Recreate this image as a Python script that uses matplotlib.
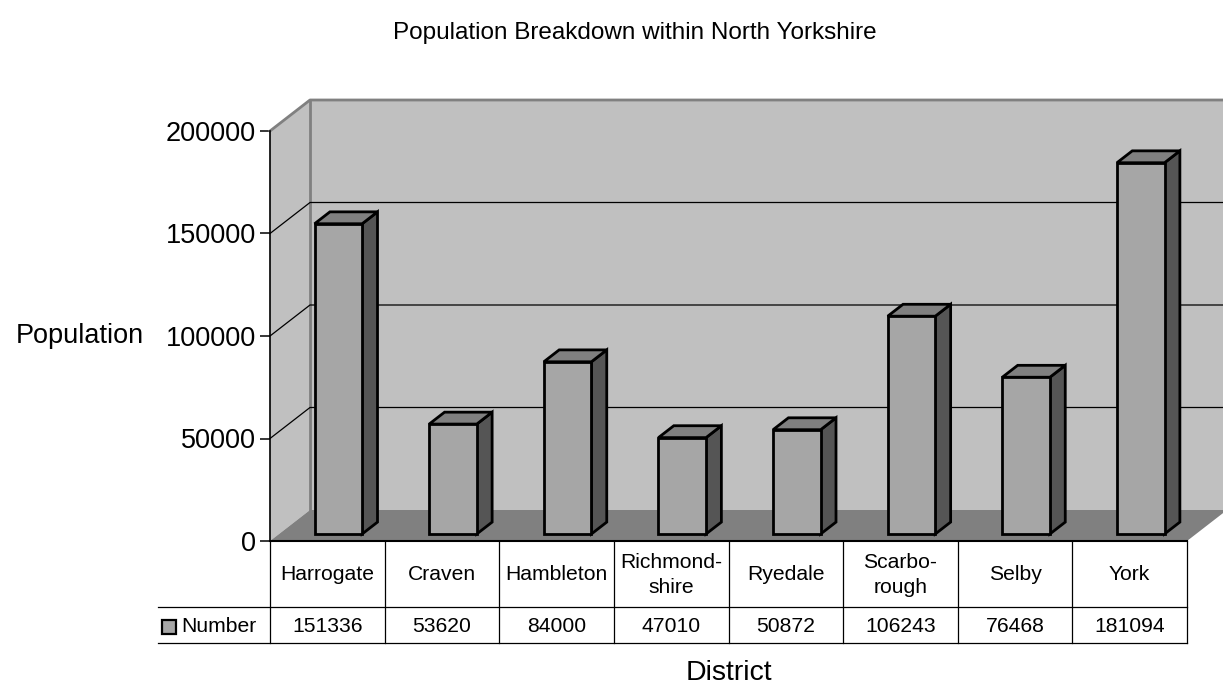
import matplotlib
matplotlib.use("Agg")
import matplotlib.pyplot as plt
from matplotlib.patches import Polygon, Rectangle

districts = ["Harrogate", "Craven", "Hambleton", "Richmond-\nshire", "Ryedale",
             "Scarbo-\nrough", "Selby", "York"]
numbers = [151336, 53620, 84000, 47010, 50872, 106243, 76468, 181094]
yticks = [0, 50000, 100000, 150000, 200000]
series_name = "Number"

plt.rcParams['font.family'] = ['Liberation Sans', 'DejaVu Sans']

W, H = 1223, 684
fig = plt.figure(figsize=(W / 100, H / 100), dpi=100)
# front plane of the plot: x 270..1187 px, y 541 (0) .. 131 (200000) px
ax = fig.add_axes([270 / W, (H - 541) / H, (1187 - 270) / W, (541 - 131) / H])
n = len(numbers)
ymax = 200000
ax.set_xlim(0, n)
ax.set_ylim(0, ymax)

pxx = n / (1187 - 270)          # category units per px
pxy = ymax / (541 - 131)        # value units per px
DX, DY = 40 * pxx, 31 * pxy     # depth offset of the walls

wall = "#c0c0c0"
floorc = "#808080"
edge = "#808080"

# back wall
ax.add_patch(Polygon([(DX, DY), (n + DX, DY), (n + DX, ymax + DY), (DX, ymax + DY)],
                     closed=True, fc=wall, ec="none", clip_on=False, zorder=1))
# side wall
ax.add_patch(Polygon([(0, 0), (DX, DY), (DX, ymax + DY), (0, ymax)],
                     closed=True, fc=wall, ec="none", clip_on=False, zorder=1))
# floor
ax.add_patch(Polygon([(0, 0), (n, 0), (n + DX, DY), (DX, DY)],
                     closed=True, fc=floorc, ec="none", clip_on=False, zorder=2))
# wall edges
ax.plot([0, DX, n + DX], [ymax, ymax + DY, ymax + DY], color=edge, lw=2, clip_on=False, zorder=3)
ax.plot([DX, DX], [DY, ymax + DY], color=edge, lw=2, clip_on=False, zorder=3)
# gridlines
for t in yticks[1:-1]:
    ax.plot([0, DX, n + DX], [t, t + DY, t + DY], color="black", lw=0.9,
            clip_on=False, zorder=3)
ax.plot([0, n], [0, 0], color="black", lw=1.5, clip_on=False, zorder=3)

# bars
f1, f2 = 0.226, 0.61
bx0, bx1 = 0.31, 0.725
for i, v in enumerate(numbers):
    x0 = i + bx0
    x1 = i + bx1
    fx, fy = f1 * DX, f1 * DY
    bxo, byo = f2 * DX, f2 * DY
    front = [(x0 + fx, fy), (x1 + fx, fy), (x1 + fx, v + fy), (x0 + fx, v + fy)]
    top = [(x0 + fx, v + fy), (x1 + fx, v + fy), (x1 + bxo, v + byo), (x0 + bxo, v + byo)]
    side = [(x1 + fx, fy), (x1 + bxo, byo), (x1 + bxo, v + byo), (x1 + fx, v + fy)]
    for pts, c in ((side, "#555555"), (top, "#808080"), (front, "#a6a6a6")):
        ax.add_patch(Polygon(pts, closed=True, fc=c, ec="black", lw=2.0,
                             joinstyle="miter", clip_on=False, zorder=5))

# axes styling
for s in ("top", "right", "bottom"):
    ax.spines[s].set_visible(False)
ax.spines["left"].set_color("black")
ax.spines["left"].set_linewidth(1.2)
ax.spines["left"].set_zorder(6)
ax.set_xticks([])
ax.set_yticks(yticks)
ax.set_yticklabels([str(t) for t in yticks])
ax.tick_params(axis="y", labelsize=19.5, length=7, width=1.1, pad=3, direction="out")
ax.patch.set_visible(False)

# data table
r1 = -(607 - 541) * pxy
r2 = -(643 - 541) * pxy
lc = "black"
tl = 0.9
ax.plot([-(270 - 158) * pxx, n], [r1, r1], color=lc, lw=tl, clip_on=False)
ax.plot([-(270 - 158) * pxx, n], [r2, r2], color=lc, lw=tl, clip_on=False)
for k in range(n + 1):
    ax.plot([k, k], [0, r2], color=lc, lw=tl, clip_on=False)
tfs = 15.2
row1_y = -(575 - 541) * pxy
row2_y = -(626 - 541) * pxy
for i, (d, v) in enumerate(zip(districts, numbers)):
    ax.text(i + 0.5, row1_y, d, ha="center", va="center", fontsize=tfs,
            linespacing=1.45, clip_on=False)
    ax.text(i + 0.5, row2_y, str(v), ha="center", va="center", fontsize=tfs,
            clip_on=False)
# legend key
ax.add_patch(Rectangle((-(270 - 162) * pxx, -(634 - 541) * pxy), 14 * pxx, 14 * pxy,
                       fc="#a6a6a6", ec="black", lw=1.6, clip_on=False))
ax.text(-(270 - 181) * pxx, row2_y, series_name, ha="left", va="center",
        fontsize=tfs, clip_on=False)

# axis titles
ax.text(-(270 - 80) * pxx, 100000, "Population", ha="center", va="center",
        fontsize=19.5, clip_on=False)
ax.text((729 - 270) * pxx, -(673 - 541) * pxy, "District", ha="center", va="center",
        fontsize=20.5, clip_on=False)
fig.text(635 / W, 1 - 33 / H, "Population Breakdown within North Yorkshire",
         ha="center", va="center", fontsize=17.5)

fig.savefig("out.png", dpi=100)
